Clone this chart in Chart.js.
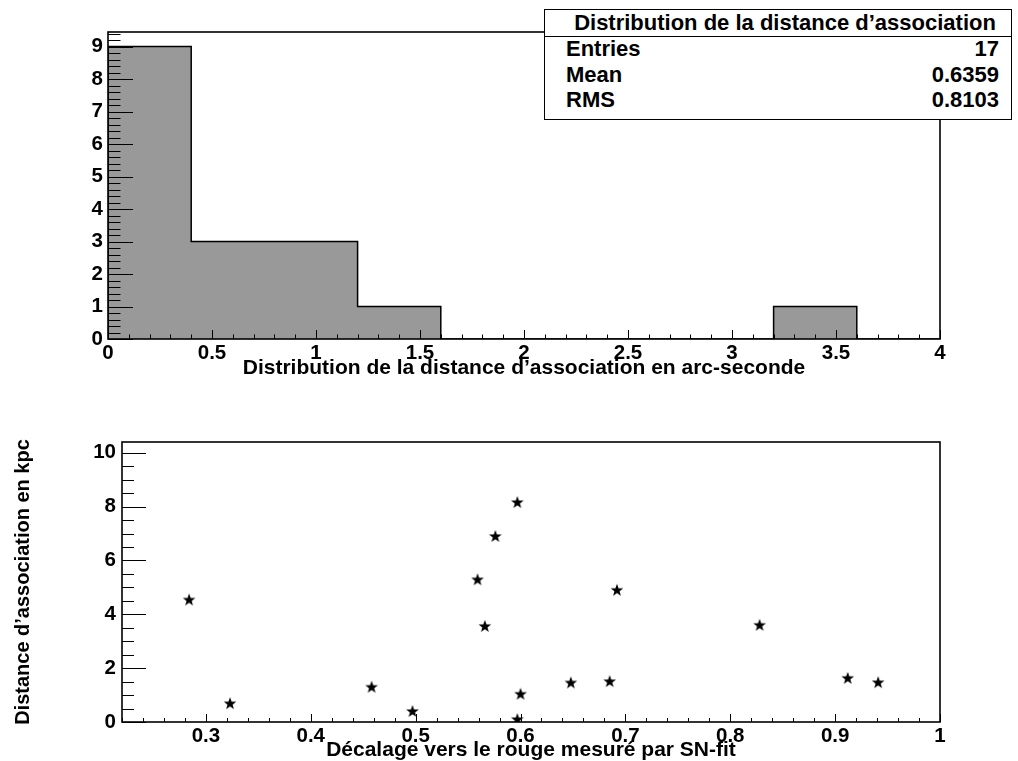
<!DOCTYPE html>
<html>
<head>
<meta charset="utf-8">
<script src="https://cdn.jsdelivr.net/npm/chart.js@4/dist/chart.umd.min.js"></script>
<style>
  body { margin: 0; background: #fff; font-family: "Liberation Sans", Arial, sans-serif; }
  #page { position: relative; width: 1018px; height: 761px; overflow: hidden; }
  .pad { position: absolute; left: 0; width: 1018px; }
  #stats { position: absolute; left: 544px; top: 9px; width: 468px; height: 111px; box-sizing: border-box;
           border: 1.5px solid #000; background: #fff; font-weight: bold; font-size: 22px; color: #000; }
  #stats .titre { position: absolute; left: 0; right: 0; top: 0; height: 26px; line-height: 26px;
                  text-align: center; border-bottom: 1.5px solid #000; padding-left: 14px; }
  #stats .ligne { position: absolute; left: 21px; right: 12px; height: 24px; line-height: 24px; }
  #stats .ligne span:last-child { float: right; }
</style>
</head>
<body>
<div id="page">
  <div class="pad" style="top:0;height:390px"><canvas id="histo" width="1018" height="390"></canvas></div>
  <div class="pad" style="top:390px;height:371px"><canvas id="nuage" width="1018" height="371"></canvas></div>
  <div id="stats"></div>
</div>
<script>
// histogramme : distance d'association (arcsec)
const binEdges = [0, 0.4, 0.8, 1.2, 1.6, 2.0, 2.4, 2.8, 3.2, 3.6, 4.0];
const binCounts = [9, 3, 3, 1, 0, 0, 0, 0, 1, 0];
const histXTicks = [0, 0.5, 1, 1.5, 2, 2.5, 3, 3.5, 4];
const histYTicks = [0, 1, 2, 3, 4, 5, 6, 7, 8, 9];

// boite de stats
const statsTitre = "Distribution de la distance d\u2019association";
const statsNoms = ["Entries", "Mean", "RMS"];
const statsValeurs = ["17", "0.6359", "0.8103"];

// nuage : decalage vers le rouge vs distance en kpc
const redshift = [0.284, 0.323, 0.458, 0.497, 0.559, 0.566, 0.576, 0.597, 0.597, 0.600, 0.648, 0.685, 0.692, 0.828, 0.912, 0.941];
const distKpc  = [4.55, 0.70, 1.31, 0.41, 5.30, 3.57, 6.91, 8.17, 0.11, 1.05, 1.47, 1.52, 4.91, 3.61, 1.64, 1.48];
const nuageXTicks = [0.3, 0.4, 0.5, 0.6, 0.7, 0.8, 0.9, 1];
const nuageYTicks = [0, 2, 4, 6, 8, 10];

const police = "'Liberation Sans', Arial, sans-serif";
const fontTicks = { family: police, size: 20.5, weight: 'bold' };
const fontTitre = { family: police, size: 21, weight: 'bold', lineHeight: 1 };

// stats en html
const stats = document.getElementById("stats");
let html = `<div class="titre">${statsTitre}</div>`;
statsNoms.forEach((n, i) => {
  html += `<div class="ligne" style="top:${27 + i * 25.5}px"><span>${n}</span><span>${statsValeurs[i]}</span></div>`;
});
stats.innerHTML = html;

// etoile pleine (marqueur 29 de ROOT)
function etoile(R, r) {
  const c = document.createElement("canvas");
  c.width = c.height = 16;
  const g = c.getContext("2d");
  g.fillStyle = "#000";
  g.beginPath();
  for (let i = 0; i < 10; i++) {
    const rad = i % 2 ? r : R;
    const a = -Math.PI / 2 + i * Math.PI / 5;
    const px = 8 + rad * Math.cos(a), py = 8.6 + rad * Math.sin(a);
    i ? g.lineTo(px, py) : g.moveTo(px, py);
  }
  g.closePath();
  g.fill();
  return c;
}

// cadre + graduations interieures facon ROOT
const cadreRoot = {
  id: 'cadreRoot',
  afterDatasetsDraw(chart, args, o) {
    const { ctx, chartArea: a, scales: { x, y } } = chart;
    ctx.save();
    ctx.strokeStyle = '#000';
    ctx.lineWidth = 1;
    ctx.beginPath();
    const graduer = (sc, pas, majeurs, lgMaj, lgMin, horiz) => {
      const i0 = Math.ceil(sc.min / pas - 1e-6), i1 = Math.floor(sc.max / pas + 1e-6);
      for (let i = i0; i <= i1; i++) {
        const v = i * pas;
        const maj = majeurs.some(m => Math.abs(m - v) < pas / 10);
        const L = maj ? lgMaj : lgMin;
        const p = Math.round(sc.getPixelForValue(v)) + 0.5;
        if (horiz) { ctx.moveTo(p, a.bottom); ctx.lineTo(p, a.bottom - L); }
        else { ctx.moveTo(a.left, p); ctx.lineTo(a.left + L, p); }
      }
    };
    graduer(x, o.xPas, o.xMaj, o.xLong, o.xLong / 2, true);
    graduer(y, o.yPas, o.yMaj, o.yLong, o.yLong / 2, false);
    ctx.stroke();
    ctx.lineWidth = 1.6;
    ctx.strokeRect(a.left, a.top, a.right - a.left, a.bottom - a.top);
    ctx.restore();
  }
};

function axe(min, max, ticks, fmt, pad, extra) {
  return Object.assign({
    type: 'linear', min, max,
    grid: { display: false, drawTicks: false },
    border: { display: false },
    afterBuildTicks: s => { s.ticks = ticks.map(v => ({ value: v })); },
    ticks: { font: fontTicks, color: '#000', autoSkip: false, maxRotation: 0, padding: pad, callback: fmt }
  }, extra);
}

// points du contour en escalier
const contour = [{ x: binEdges[0], y: 0 }];
binCounts.forEach((c, i) => contour.push({ x: binEdges[i], y: c }));
contour.push({ x: binEdges[binEdges.length - 1], y: 0 });

new Chart(document.getElementById("histo"), {
  type: 'line',
  data: {
    datasets: [{
      data: contour,
      stepped: 'before',
      fill: 'origin',
      backgroundColor: '#999999',
      borderColor: '#000',
      borderWidth: 1.5,
      pointRadius: 0
    }]
  },
  options: {
    responsive: false, animation: false,
    layout: { padding: { left: 0, right: 78, top: 32, bottom: 0 } },
    plugins: {
      legend: { display: false }, tooltip: { enabled: false },
      cadreRoot: { xPas: 0.1, xMaj: histXTicks, xLong: 9, yPas: 0.2, yMaj: histYTicks, yLong: 25 }
    },
    scales: {
      x: axe(0, 4, histXTicks, v => String(v), 2, {
        afterFit: s => { s.height = 51; },
        title: { display: true, text: "Distribution de la distance d\u2019association en arc-seconde",
                 font: fontTitre, color: '#000', padding: { top: 0, bottom: 11 } }
      }),
      y: axe(0, 9.45, histYTicks, v => String(v), 5, {
        afterFit: s => { s.width = 108; }
      })
    }
  },
  plugins: [cadreRoot]
});

const star = etoile(6.6, 2.7);
new Chart(document.getElementById("nuage"), {
  type: 'scatter',
  data: {
    datasets: [{
      data: redshift.map((z, i) => ({ x: z, y: distKpc[i] })),
      pointStyle: star,
      pointRadius: 6
    }]
  },
  options: {
    responsive: false, animation: false,
    layout: { padding: { left: 0, right: 78, top: 52, bottom: 0 } },
    plugins: {
      legend: { display: false }, tooltip: { enabled: false },
      cadreRoot: { xPas: 0.02, xMaj: nuageXTicks, xLong: 8, yPas: 0.5, yMaj: nuageYTicks, yLong: 24 }
    },
    scales: {
      x: axe(0.22, 1.0, nuageXTicks, v => String(Math.round(v * 10) / 10), 2, {
        afterFit: s => { s.height = 39; },
        title: { display: true, text: "D\u00e9calage vers le rouge mesur\u00e9 par SN-fit",
                 font: fontTitre, color: '#000', padding: { top: 0, bottom: 0 } }
      }),
      y: axe(0, 10.4, nuageYTicks, v => String(v), 6, {
        afterFit: s => { s.width = 122; },
        title: { display: true, text: "Distance d\u2019association en kpc",
                 font: { family: police, size: 20, weight: 'bold', lineHeight: 1 }, color: '#000',
                 padding: { top: 13, bottom: 0 } }
      })
    }
  },
  plugins: [cadreRoot]
});
</script>
</body>
</html>
